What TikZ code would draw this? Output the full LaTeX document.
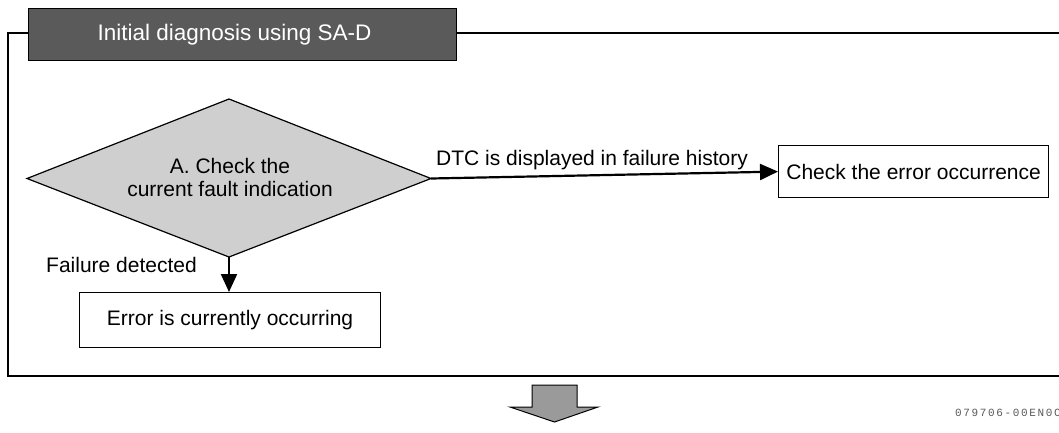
\documentclass[tikz,border=0pt]{standalone}
\usepackage{fontspec}
\setmainfont{Liberation Sans}
\newfontfamily\codefont{Liberation Mono}
\usetikzlibrary{shapes.geometric,arrows.meta}
\definecolor{titlegray}{HTML}{5A5A5A}
\definecolor{diagray}{HTML}{CFCFCF}
\definecolor{bigarrow}{HTML}{9A9A9A}
\tikzset{
  box/.style={draw, line width=1.2pt, fill=white, minimum height=52pt, font=\fontsize{21}{24}\selectfont, inner sep=0pt},
  conn/.style={line width=2.2pt, -{Triangle[length=18pt,width=16pt]}},
  lbl/.style={font=\fontsize{21}{24}\selectfont, inner sep=0pt},
}
\begin{document}
\begin{tikzpicture}[x=1pt,y=-1pt]
\useasboundingbox (0,0) rectangle (1059,432);
% frame
\draw[line width=1.3pt] (1062,33) -- (8,33) -- (8,376) -- (1062,376);
% title bar
\node[draw=black, line width=1.2pt, fill=titlegray, text=white, minimum width=428pt, minimum height=52pt, inner sep=0pt, font=\fontsize{22.5}{26}\selectfont, anchor=north west] (title) at (28,8) {\hspace*{-16pt}Initial diagnosis using SA-D};
% diamond
\draw[line width=1.2pt, fill=diagray] (27,178.5) -- (229,99) -- (431,178.5) -- (229,257) -- cycle;
\node[lbl, align=center, font=\fontsize{21}{23}\selectfont] (dia) at (230,177) {A. Check the\\current fault indication};
\coordinate (dR) at (431,178.5);
\coordinate (dB) at (229,257);
% boxes
\node[box, minimum width=270pt, anchor=north west] (chk) at (778,145) {Check the error occurrence};
\node[box, minimum width=301pt, minimum height=55pt, anchor=north west] (err) at (79,292) {Error is currently occurring};
% connectors
\draw[conn] (dR) -- (chk.west);
\node[lbl, anchor=south west] (l1) at (436,170) {DTC is displayed in failure history};
\draw[conn] (dB) -- (err.north -| dB);
\node[lbl, anchor=west] (l2) at (46,265) {Failure detected};
% big down arrow
\draw[line width=1pt, fill=bigarrow] (532,385) -- (577,385) -- (577,407) -- (598,407) -- (554.5,422) -- (510,407) -- (532,407) -- cycle;
% code
\begin{scope}
\clip (900,395) rectangle (1059,432);
\node[anchor=west, inner sep=0pt, text=black!65, font=\codefont\fontsize{11}{12}\selectfont\addfontfeature{LetterSpace=15}] (code) at (955,413) {079706-00EN0C};
\end{scope}
\end{tikzpicture}
\end{document}
